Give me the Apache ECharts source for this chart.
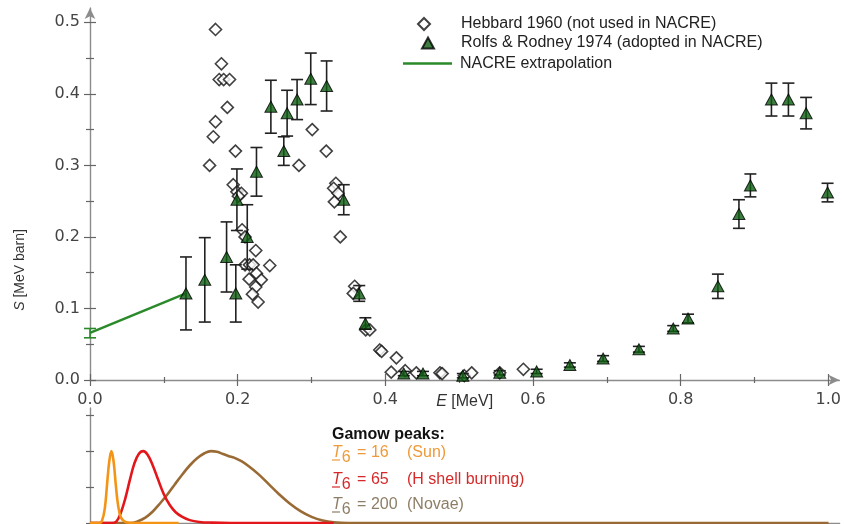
<!DOCTYPE html>
<html>
<head>
<meta charset="utf-8">
<script src="https://cdn.jsdelivr.net/npm/echarts@6/dist/echarts.min.js"></script>
<style>
  html, body { margin: 0; padding: 0; background: #fff; }
  #chart { width: 844px; height: 524px; }
</style>
</head>
<body>
<div id="chart"></div>
<script>
// Hebbard 1960 astrophysical S-factor (MeV, MeV barn)
const hebE = [0.170, 0.178, 0.175, 0.181, 0.189, 0.186, 0.170, 0.167, 0.162, 0.197,
              0.194, 0.199, 0.205, 0.201, 0.206, 0.210, 0.2245, 0.210, 0.216, 0.221,
              0.2435, 0.2255, 0.2155, 0.232, 0.2245, 0.220, 0.2277, 0.283, 0.301, 0.320,
              0.333, 0.330, 0.336, 0.331, 0.339, 0.3585, 0.3565, 0.3735, 0.379, 0.3925,
              0.395, 0.415, 0.408, 0.427, 0.442, 0.474, 0.477, 0.507, 0.517, 0.555, 0.587];
const hebS = [0.490, 0.442, 0.420, 0.420, 0.420, 0.381, 0.361, 0.340, 0.300, 0.320,
              0.273, 0.263, 0.261, 0.257, 0.210, 0.200, 0.181, 0.161, 0.161, 0.161,
              0.160, 0.149, 0.141, 0.140, 0.130, 0.120, 0.109, 0.300, 0.350, 0.320,
              0.275, 0.268, 0.261, 0.249, 0.200, 0.131, 0.121, 0.070, 0.070, 0.042,
              0.040, 0.031, 0.011, 0.013, 0.010, 0.010, 0.009, 0.006, 0.010, 0.010, 0.015];

// Rolfs & Rodney 1974 with symmetric uncertainties
const rolfsE = [0.130, 0.1555, 0.185, 0.1975, 0.199, 0.213, 0.2255, 0.245, 0.2625, 0.267,
                0.2805, 0.299, 0.3205, 0.3437, 0.3647, 0.373, 0.425, 0.451, 0.505, 0.555,
                0.605, 0.650, 0.695, 0.7435, 0.790, 0.810, 0.8505, 0.879, 0.8945, 0.923,
                0.946, 0.970, 0.999];
const rolfsS = [0.121, 0.140, 0.172, 0.121, 0.252, 0.200, 0.291, 0.382, 0.320, 0.373,
                0.392, 0.421, 0.411, 0.252, 0.121, 0.079, 0.009, 0.009, 0.006, 0.010,
                0.012, 0.021, 0.030, 0.043, 0.072, 0.086, 0.131, 0.232, 0.272, 0.392,
                0.392, 0.373, 0.262];
const rolfsErr = [0.051, 0.059, 0.049, 0.040, 0.043, 0.045, 0.034, 0.037, 0.020, 0.032,
                  0.028, 0.036, 0.035, 0.021, 0.011, 0.008, 0.003, 0.003, 0.003, 0.003,
                  0.003, 0.003, 0.004, 0.004, 0.004, 0.006, 0.017, 0.020, 0.016, 0.023,
                  0.023, 0.022, 0.013];

// NACRE low-energy extrapolation
const nacreE = [0, 0.13];
const nacreS = [0.066, 0.121];
const nacreErrLo = [0.059];
const nacreErrHi = [0.072];

// Gamow peaks (arbitrary units)
const sunE   = [0, 0.012, 0.016, 0.020, 0.023, 0.026, 0.029, 0.032, 0.035, 0.038, 0.042, 0.048, 0.06, 0.12];
const sunY   = [0, 0, 0.05, 0.4, 1.05, 1.7, 2.0, 1.7, 1.05, 0.5, 0.15, 0.03, 0, 0];
const shellE = [0, 0.030, 0.036, 0.042, 0.048, 0.054, 0.060, 0.066, 0.072, 0.078, 0.085, 0.092,
                0.100, 0.108, 0.116, 0.125, 0.135, 0.148, 0.165, 0.19, 0.33];
const shellY = [0, 0, 0.05, 0.3, 0.7, 1.2, 1.65, 1.92, 2.0, 1.9, 1.6, 1.22,
                0.8, 0.5, 0.3, 0.17, 0.08, 0.03, 0.01, 0, 0];
const novaE  = [0, 0.055, 0.065, 0.075, 0.085, 0.095, 0.105, 0.115, 0.125, 0.135, 0.145, 0.155,
                0.164, 0.172, 0.180, 0.188, 0.195, 0.205, 0.215, 0.228, 0.242, 0.256, 0.27,
                0.285, 0.30, 0.315, 0.33, 0.35, 1.0];
const novaY  = [0, 0, 0.05, 0.15, 0.32, 0.55, 0.8, 1.08, 1.35, 1.6, 1.8, 1.94,
                2.0, 1.98, 1.92, 1.86, 1.82, 1.72, 1.58, 1.36, 1.08, 0.8, 0.55,
                0.33, 0.17, 0.07, 0.02, 0, 0];

// Tick positions
const xTicks = [0, 0.2, 0.4, 0.6, 0.8, 1.0];
const xMinorTicks = [0.1, 0.3, 0.5, 0.7, 0.9];
const yTicks = [0, 0.1, 0.2, 0.3, 0.4, 0.5];
const yMinorTicks = [0.05, 0.15, 0.25, 0.35, 0.45];
const gamowTicks = [0, 1, 2, 3];

const legendNames = ['Hebbard 1960 (not used in NACRE)',
                     'Rolfs & Rodney 1974 (adopted in NACRE)',
                     'NACRE extrapolation'];

const AXIS_GRAY = '#8c8c8c';
const TICK_GRAY = '#666';
const LABEL_FONT = 'DejaVu Sans';
const TEXT_FONT = '"Liberation Sans", Arial, sans-serif';

const pairs = (xs, ys) => xs.map((x, i) => [x, ys[i]]);

// Axis factory: one axis carries a tick set on one side of the line
function axis(dim, grid, opt) {
  const a = {
    type: 'value',
    gridIndex: grid,
    position: dim === 'x' ? 'bottom' : 'left',
    min: opt.min, max: opt.max,
    splitLine: { show: false },
    axisLine: { show: false, onZero: false },
    axisTick: { show: !!opt.ticks, inside: !!opt.inside, length: opt.len || 6,
                customValues: opt.ticks || [],
                lineStyle: { color: TICK_GRAY, width: 1.2 } },
    axisLabel: { show: false }
  };
  if (opt.line) {
    a.axisLine = { show: true, onZero: false,
                   symbol: opt.arrow ? ['none', 'arrow'] : 'none',
                   symbolSize: [8, 11],
                   lineStyle: { color: AXIS_GRAY, width: 1.4 } };
  }
  if (opt.labels) {
    a.axisLabel = { show: true, customValues: opt.labels, margin: opt.margin,
                    formatter: v => v.toFixed(1),
                    color: '#444', fontFamily: LABEL_FONT, fontSize: 16 };
  }
  if (opt.name) Object.assign(a, opt.name);
  return a;
}

const errorBar = color => (params, api) => {
  const x = api.value(0);
  const lo = api.coord([x, api.value(1)]);
  const hi = api.coord([x, api.value(2)]);
  const w = 6;
  const st = { stroke: color, lineWidth: 1.6 };
  return {
    type: 'group',
    children: [
      { type: 'line', shape: { x1: lo[0], y1: lo[1], x2: hi[0], y2: hi[1] }, style: st },
      { type: 'line', shape: { x1: lo[0] - w, y1: lo[1], x2: lo[0] + w, y2: lo[1] }, style: st },
      { type: 'line', shape: { x1: hi[0] - w, y1: hi[1], x2: hi[0] + w, y2: hi[1] }, style: st }
    ]
  };
};

// One legend block per entry so each icon keeps its own shape and width
function legendEntry(name, left, top, w, h, textPad, icon) {
  const item = icon ? { name, icon } : { name };
  return {
    data: [item], orient: 'vertical', left, top, padding: 0,
    itemWidth: w, itemHeight: h, selectedMode: false,
    textStyle: { fontFamily: TEXT_FONT, fontSize: 16, color: '#222', padding: [0, 0, 0, textPad] }
  };
}

const chart = echarts.init(document.getElementById('chart'), null, { renderer: 'canvas' });

const XMAX = 1.015;
const option = {
  animation: false,
  backgroundColor: '#fff',
  grid: [
    { left: 90, top: 8, width: 749.6, height: 372 },
    { left: 90, top: 408, width: 749.6, height: 115 }
  ],
  xAxis: [
    axis('x', 0, { min: 0, max: XMAX, line: true, arrow: true, ticks: xTicks, len: 6,
                   labels: xTicks, margin: 12,
                   name: { name: '{i|E} [MeV]', nameLocation: 'middle', nameGap: 14,
                           nameMoveOverlap: false,
                           nameTextStyle: { fontFamily: TEXT_FONT, fontSize: 16, color: '#333',
                             rich: { i: { fontStyle: 'italic', fontFamily: TEXT_FONT, fontSize: 16, color: '#333' } } } } }),
    axis('x', 0, { min: 0, max: XMAX, ticks: xTicks, inside: true, len: 6 }),
    axis('x', 0, { min: 0, max: XMAX, ticks: xMinorTicks, len: 3 }),
    axis('x', 0, { min: 0, max: XMAX, ticks: xMinorTicks, inside: true, len: 3 }),
    axis('x', 1, { min: 0, max: XMAX, line: true })
  ],
  yAxis: [
    axis('y', 0, { min: 0, max: 0.52, line: true, arrow: true, ticks: yTicks, len: 6,
                   labels: yTicks, margin: 10 }),
    axis('y', 0, { min: 0, max: 0.52, ticks: yTicks, inside: true, len: 6 }),
    axis('y', 0, { min: 0, max: 0.52, ticks: yMinorTicks, len: 4 }),
    axis('y', 0, { min: 0, max: 0.52, ticks: yMinorTicks, inside: true, len: 4 }),
    axis('y', 1, { min: 0, max: 3.2, line: true, ticks: gamowTicks, len: 4 }),
    axis('y', 1, { min: 0, max: 3.2, ticks: gamowTicks, inside: true, len: 4 })
  ],
  legend: [
    legendEntry(legendNames[0], 417, 16, 12, 12, 26),
    legendEntry(legendNames[1], 421, 35, 12, 11, 22),
    legendEntry(legendNames[2], 403, 55.5, 49, 2.5, 3, 'rect')
  ],
  series: [
    {
      name: legendNames[0], type: 'scatter', xAxisIndex: 0, yAxisIndex: 0,
      symbol: 'diamond', symbolSize: 12,
      itemStyle: { color: '#fff', borderColor: '#111', borderWidth: 1.6 },
      data: pairs(hebE, hebS), z: 2
    },
    {
      name: 'rolfsErr', type: 'custom', xAxisIndex: 0, yAxisIndex: 0,
      renderItem: errorBar('#222'),
      data: rolfsE.map((e, i) => [e, rolfsS[i] - rolfsErr[i], rolfsS[i] + rolfsErr[i]]),
      z: 3
    },
    {
      name: 'nacreErr', type: 'custom', xAxisIndex: 0, yAxisIndex: 0,
      renderItem: errorBar('#2a8a2a'),
      data: nacreErrLo.map((lo, i) => [nacreE[i], lo, nacreErrHi[i]]),
      z: 3
    },
    {
      name: legendNames[2], type: 'line', xAxisIndex: 0, yAxisIndex: 0,
      symbol: 'none', color: '#2a8a2a',
      lineStyle: { color: '#2a8a2a', width: 2.5 },
      data: pairs(nacreE, nacreS), z: 3
    },
    {
      name: legendNames[1], type: 'scatter', xAxisIndex: 0, yAxisIndex: 0,
      symbol: 'triangle', symbolSize: [12, 11],
      itemStyle: { color: '#0c5e10', borderColor: '#000', borderWidth: 1 },
      data: pairs(rolfsE, rolfsS), z: 4
    },
    {
      name: 'novae', type: 'line', xAxisIndex: 4, yAxisIndex: 4, symbol: 'none',
      smooth: 0.4, lineStyle: { color: '#9a6a35', width: 2.6 },
      data: pairs(novaE, novaY), z: 2
    },
    {
      name: 'shell', type: 'line', xAxisIndex: 4, yAxisIndex: 4, symbol: 'none',
      smooth: 0.4, lineStyle: { color: '#e3161b', width: 2.6 },
      data: pairs(shellE, shellY), z: 3
    },
    {
      name: 'sun', type: 'line', xAxisIndex: 4, yAxisIndex: 4, symbol: 'none',
      smooth: 0.4, lineStyle: { color: '#f39416', width: 2.6 },
      data: pairs(sunE, sunY), z: 4
    }
  ],
  graphic: [
    {
      type: 'text', x: 20, y: 270, rotation: Math.PI / 2,
      style: {
        text: '{i|S} [MeV barn]', align: 'center', verticalAlign: 'middle',
        font: '14px "Liberation Sans", Arial, sans-serif', fill: '#333',
        rich: { i: { fontStyle: 'italic', fontSize: 14, fontFamily: TEXT_FONT, fill: '#333' } }
      }
    },
    {
      type: 'text', x: 332, y: 435,
      style: { text: 'Gamow peaks:', verticalAlign: 'middle',
               font: 'bold 16px "Liberation Sans", Arial, sans-serif', fill: '#111' }
    },
    ...[
      { y: 453, v: '16', note: '(Sun)', color: '#ee9a3a' },
      { y: 480, v: '65', note: '(H shell burning)', color: '#d62a2a' },
      { y: 505, v: '200', note: '(Novae)', color: '#8e7e66' }
    ].flatMap(r => [
      {
        type: 'text', x: 332, y: r.y,
        style: {
          text: '{t|T}{s|6}{n| = ' + r.v + '}', verticalAlign: 'middle',
          font: '16px "Liberation Sans", Arial, sans-serif', fill: r.color,
          rich: {
            t: { fontStyle: 'italic', fontSize: 16, fontFamily: TEXT_FONT, fill: r.color },
            s: { fontSize: 16, fontFamily: TEXT_FONT, fill: r.color, padding: [10, 0, 0, 0] },
            n: { fontSize: 16, fontFamily: TEXT_FONT, fill: r.color, padding: [0, 0, 0, 2] }
          }
        }
      },
      {
        type: 'line', shape: { x1: 332, y1: r.y + 7, x2: 340, y2: r.y + 7 },
        style: { stroke: r.color, lineWidth: 1.2 }
      },
      {
        type: 'text', x: 407, y: r.y,
        style: { text: r.note, verticalAlign: 'middle',
                 font: '16px "Liberation Sans", Arial, sans-serif', fill: r.color }
      }
    ])
  ]
};

chart.setOption(option);
</script>
</body>
</html>
